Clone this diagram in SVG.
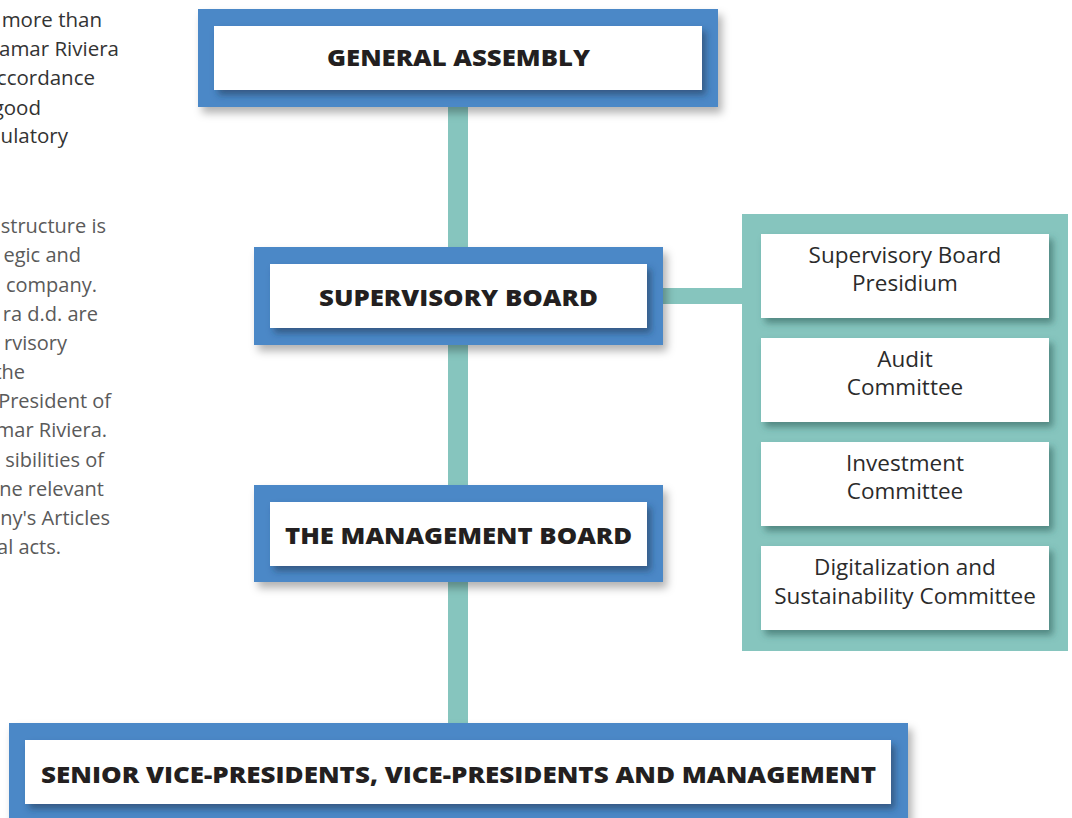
<svg xmlns="http://www.w3.org/2000/svg" width="1072" height="818" viewBox="0 0 1072 818">
  <defs>
    <filter id="outerShadow" x="-10%" y="-20%" width="125%" height="150%">
      <feDropShadow dx="4" dy="6" stdDeviation="4" flood-color="#000" flood-opacity="0.3"/>
    </filter>
    <filter id="innerShadow" x="-10%" y="-20%" width="125%" height="150%">
      <feDropShadow dx="4" dy="5" stdDeviation="3.5" flood-color="#1d3550" flood-opacity="0.55"/>
    </filter>
    <filter id="cardShadow" x="-10%" y="-20%" width="125%" height="150%">
      <feDropShadow dx="4" dy="5" stdDeviation="3.5" flood-color="#2d5e58" flood-opacity="0.6"/>
    </filter>
  </defs>
  <style>
    .side1 { font-family: "Open Sans", "Liberation Sans", sans-serif; font-size: 20.5px; fill: #333333; text-anchor: end; }
    .side2 { font-family: "Open Sans", "Liberation Sans", sans-serif; font-size: 20px; fill: #5a5a5a; text-anchor: end; }
    .outer { fill: #4b88c7; filter: url(#outerShadow); }
    .inner { fill: #ffffff; filter: url(#innerShadow); }
    .title { font-family: "Open Sans", "Liberation Sans", sans-serif; font-weight: 800; font-size: 23px; fill: #231f20; text-anchor: middle; }
    .card { fill: #ffffff; filter: url(#cardShadow); }
    .cardtxt { font-family: "Open Sans", "Liberation Sans", sans-serif; font-size: 22.5px; fill: #2b2b2b; text-anchor: middle; }
    .conn { fill: #86c5be; }
  </style>

  <rect width="1072" height="818" fill="#ffffff"/>

  <g id="side-text">
    <text class="side1" x="102" y="26.5">more than</text>
    <text class="side1" x="119" y="56">amar Riviera</text>
    <text class="side1" x="95" y="85">ccordance</text>
    <text class="side1" x="41" y="114.5">good</text>
    <text class="side1" x="68" y="143">ulatory</text>

    <text class="side2" x="106" y="233">structure is</text>
    <text class="side2" x="81" y="262">egic and</text>
    <text class="side2" x="97" y="292">company.</text>
    <text class="side2" x="98" y="321">ra d.d. are</text>
    <text class="side2" x="67" y="350">rvisory</text>
    <text class="side2" x="25" y="379">the</text>
    <text class="side2" x="111" y="408">President of</text>
    <text class="side2" x="107" y="437">mar Riviera.</text>
    <text class="side2" x="104" y="467">sibilities of</text>
    <text class="side2" x="104" y="496">ne relevant</text>
    <text class="side2" x="110" y="525">ny's Articles</text>
    <text class="side2" x="61" y="554">al acts.</text>
  </g>

  <g id="connectors">
    <rect class="conn" x="448" y="100" width="20" height="630"/>
    <rect class="conn" x="655" y="288" width="92" height="16"/>
  </g>

  <g id="committee-panel">
    <rect class="conn" x="742" y="214" width="326" height="437"/>
  </g>

  <g id="general-assembly">
    <rect class="outer" x="198" y="9" width="520" height="98"/>
    <rect class="inner" x="214" y="26" width="488" height="64"/>
    <text class="title" x="458.5" y="66" textLength="263" lengthAdjust="spacingAndGlyphs">GENERAL ASSEMBLY</text>
  </g>

  <g id="supervisory-board">
    <rect class="outer" x="254" y="247" width="409" height="98"/>
    <rect class="inner" x="270" y="264" width="377" height="64"/>
    <text class="title" x="458.5" y="306" textLength="279" lengthAdjust="spacingAndGlyphs">SUPERVISORY BOARD</text>
  </g>

  <g id="management-board">
    <rect class="outer" x="254" y="485" width="409" height="97"/>
    <rect class="inner" x="270" y="502" width="377" height="64"/>
    <text class="title" x="458.5" y="544" textLength="347" lengthAdjust="spacingAndGlyphs">THE MANAGEMENT BOARD</text>
  </g>

  <g id="senior-vps">
    <rect class="outer" x="9" y="723" width="899" height="100"/>
    <rect class="inner" x="25" y="740" width="866" height="64"/>
    <text class="title" x="458.5" y="783" textLength="835" lengthAdjust="spacingAndGlyphs">SENIOR VICE-PRESIDENTS, VICE-PRESIDENTS AND MANAGEMENT</text>
  </g>

  <g id="presidium">
    <rect class="card" x="761" y="234" width="288" height="84"/>
    <text class="cardtxt" x="905" y="263">Supervisory Board</text>
    <text class="cardtxt" x="905" y="291">Presidium</text>
  </g>

  <g id="audit-committee">
    <rect class="card" x="761" y="338" width="288" height="84"/>
    <text class="cardtxt" x="905" y="367">Audit</text>
    <text class="cardtxt" x="905" y="395">Committee</text>
  </g>

  <g id="investment-committee">
    <rect class="card" x="761" y="442" width="288" height="84"/>
    <text class="cardtxt" x="905" y="471">Investment</text>
    <text class="cardtxt" x="905" y="499">Committee</text>
  </g>

  <g id="digitalization-committee">
    <rect class="card" x="761" y="546" width="288" height="84"/>
    <text class="cardtxt" x="905" y="575">Digitalization and</text>
    <text class="cardtxt" x="905" y="604">Sustainability Committee</text>
  </g>
</svg>
